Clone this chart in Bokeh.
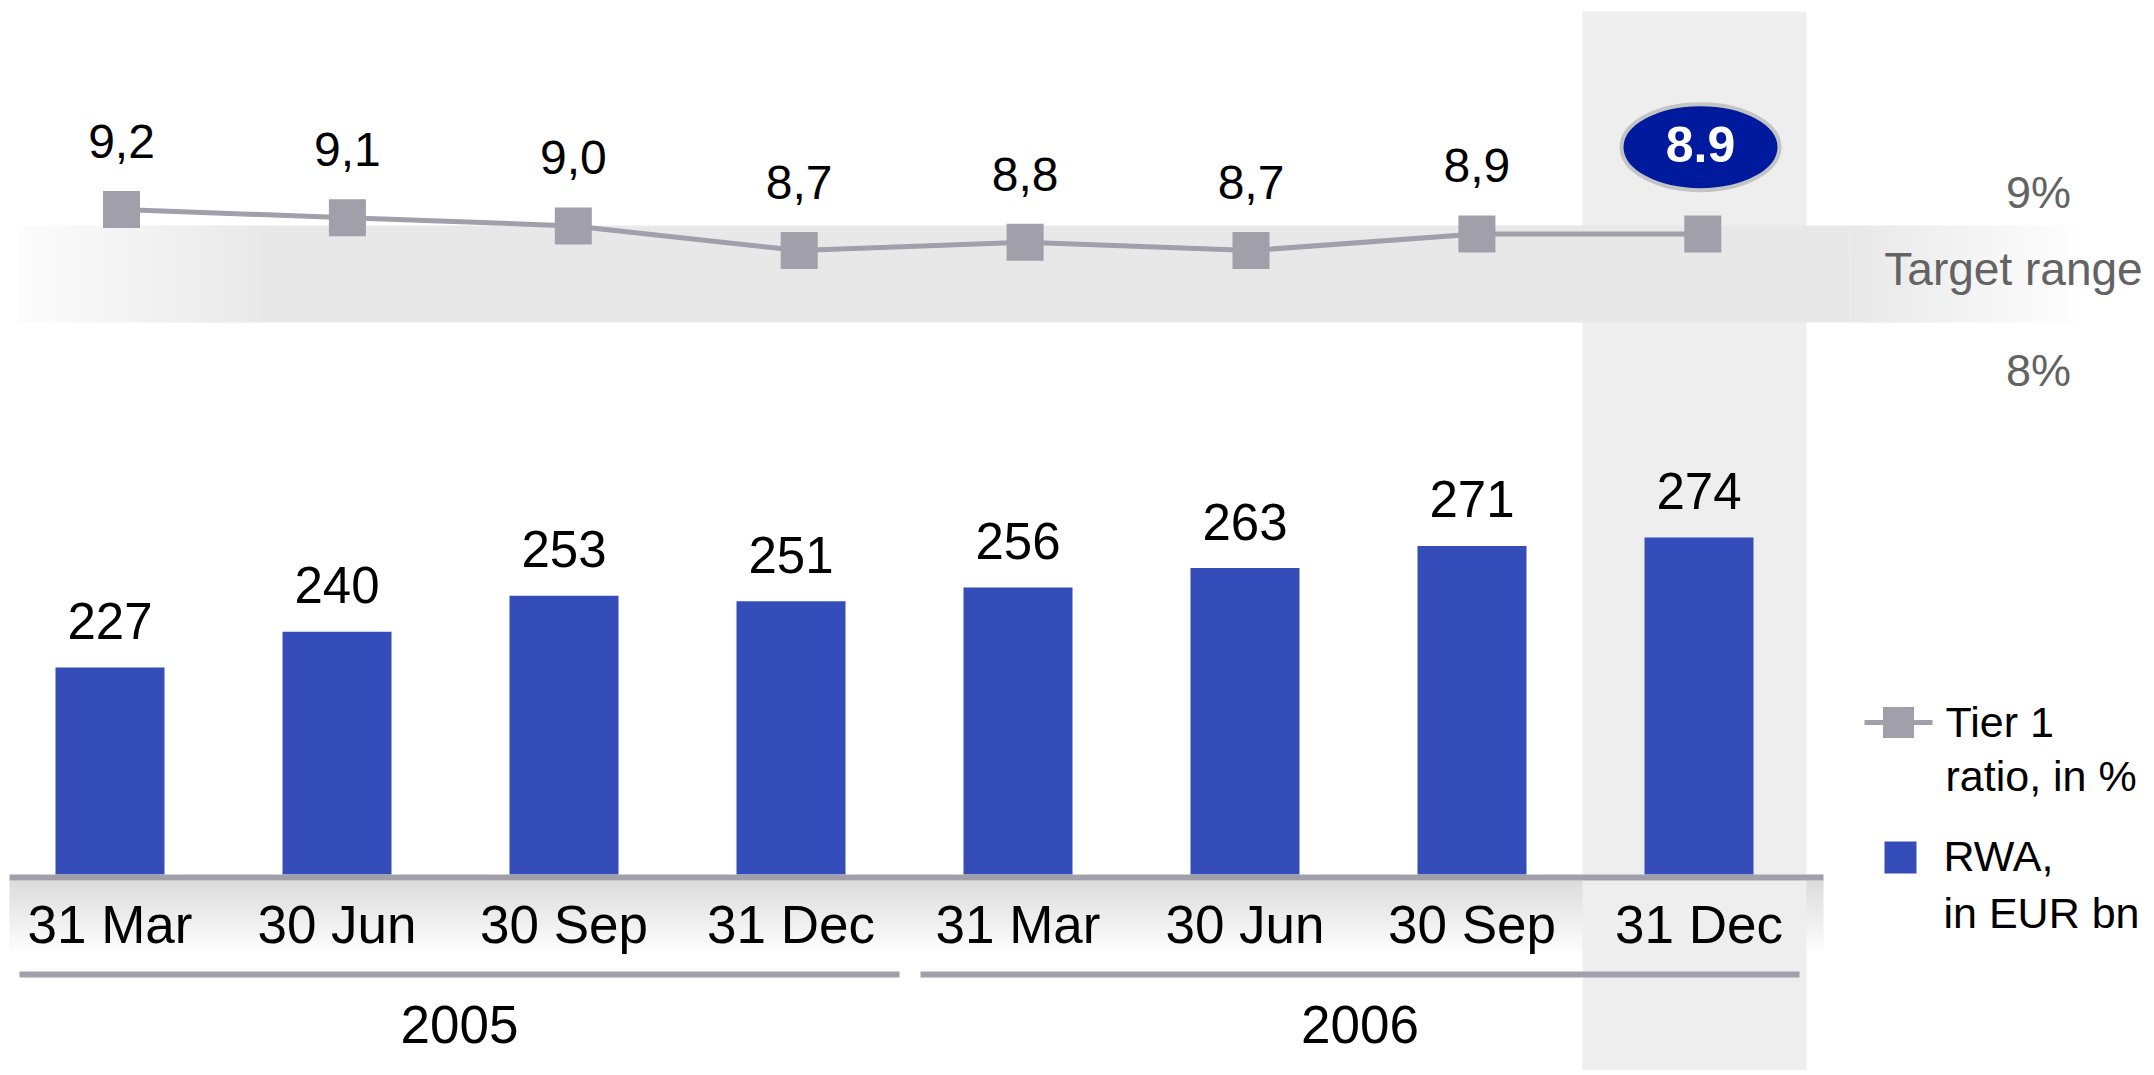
from bokeh.plotting import figure
from bokeh.models import Range1d
from bokeh.embed import file_html
from bokeh.resources import INLINE
from bokeh.core.properties import value

# ---------------- data ----------------
quarters = ["31 Mar", "30 Jun", "30 Sep", "31 Dec", "31 Mar", "30 Jun", "30 Sep", "31 Dec"]
years = ["2005", "2006"]
rwa_bn = [227, 240, 253, 251, 256, 263, 271, 274]
tier1_pct = [9.2, 9.1, 9.0, 8.7, 8.8, 8.7, 8.9, 8.9]
target_labels = ["9%", "8%"]
target_title = "Target range"
legend_tier1 = ["Tier 1", "ratio, in %"]
legend_rwa = ["RWA,", "in EUR bn"]

# ---------------- layout ----------------
W, H = 2150, 1070
M = 0          # observed page offset of the canvas
FONT = value("Liberation Sans")
BLUE = "#344DB8"
GREY = "#A09FAA"
TXT_GREY = "#636363"
BL = 0.4       # baseline correction (fraction of font size)


def cx(x):
    return x - M


def cy(y):
    return y - M


def ty(y, fs):
    """canvas y for a text whose baseline should sit at reference y"""
    return cy(y) - BL * fs


def mix(c1, c2, t):
    a = [int(c1[i:i + 2], 16) for i in (1, 3, 5)]
    b = [int(c2[i:i + 2], 16) for i in (1, 3, 5)]
    return "#%02x%02x%02x" % tuple(round(a[k] + (b[k] - a[k]) * t) for k in range(3))


idx = list(range(len(quarters)))

# bar scale
BAR0, BAR_STEP = 109.5, 227.0
xs0 = -cx(BAR0) / BAR_STEP
RWA_BASE, RWA_PX = 152.2, 2.766
BASE_Y = cy(874)

# tier-1 line scale
LN0, LN_STEP = 121.0, 225.9
xl0 = -cx(LN0) / LN_STEP
R_REF, R_REF_Y, R_PX = 9.2, cy(209), 82.0

p = figure(width=W, height=H,
           x_range=Range1d(xs0, xs0 + W / BAR_STEP),
           y_range=Range1d(RWA_BASE - (H - BASE_Y) / RWA_PX, RWA_BASE + BASE_Y / RWA_PX),
           output_backend="svg", toolbar_location=None,
           x_axis_type=None, y_axis_type=None, min_border=0,
           outline_line_color=None, title=None,
           background_fill_color="white", border_fill_color="white")
p.extra_x_ranges = {"line": Range1d(xl0, xl0 + W / LN_STEP), "px": Range1d(0, W)}
p.extra_y_ranges = {"ratio": Range1d(R_REF - (H - R_REF_Y) / R_PX, R_REF + R_REF_Y / R_PX),
                    "px": Range1d(H, 0)}

PX = dict(x_range_name="px", y_range_name="px")

# gradient below the category axis
N = 30
g_top, g_bot = 880, 956
for k in range(N):
    t0 = g_top + (g_bot - g_top) * k / N
    t1 = g_top + (g_bot - g_top) * (k + 1) / N
    p.quad(left=cx(9), right=cx(1823), top=cy(t0), bottom=cy(t1) + 0.5,
           fill_color=mix("#DCDCDC", "#FFFFFF", k / (N - 1)), line_color=None, **PX)

# highlight column
p.quad(left=cx(1582), right=cx(1806), top=cy(11), bottom=H + 5,
       fill_color="#EEEEEE", line_color=None, **PX)

# target range band
BAND_T, BAND_B = 225, 322
p.quad(left=cx(268), right=cx(1850), top=cy(BAND_T), bottom=cy(BAND_B),
       fill_color="#E8E8E8", line_color=None, **PX)
NF = 40
for k in range(NF):
    l0 = 18 + (268 - 18) * k / NF
    l1 = 18 + (268 - 18) * (k + 1) / NF
    p.quad(left=cx(l0), right=cx(l1) + 0.6, top=cy(BAND_T), bottom=cy(BAND_B),
           fill_color=mix("#FCFCFC", "#E8E8E8", (k + 0.5) / NF), line_color=None, **PX)
    r0 = 1850 + (2082 - 1850) * k / NF
    r1 = 1850 + (2082 - 1850) * (k + 1) / NF
    p.quad(left=cx(r0), right=cx(r1) + 0.6, top=cy(BAND_T), bottom=cy(BAND_B),
           fill_color=mix("#E8E8E8", "#FEFEFE", (k + 0.5) / NF), line_color=None, **PX)

# bars
p.vbar(x=idx, top=rwa_bn, bottom=RWA_BASE, width=109 / BAR_STEP,
       fill_color=BLUE, line_color=None)

# axis line and group lines
p.quad(left=cx(9), right=cx(1823), top=cy(874), bottom=cy(880),
       fill_color=GREY, line_color=None, **PX)
group_spans = [(19, 899), (920, 1799)]
for (gl, gr) in group_spans:
    p.quad(left=cx(gl), right=cx(gr), top=cy(971), bottom=cy(977),
           fill_color=GREY, line_color=None, **PX)

# tier 1 line
p.line(x=idx, y=tier1_pct, line_color=GREY, line_width=5,
       x_range_name="line", y_range_name="ratio")
p.scatter(x=idx, y=tier1_pct, marker="square", size=37, fill_color=GREY,
          line_color=None, x_range_name="line", y_range_name="ratio")

# tier labels (all but the highlighted last one)
FS_T = 48
p.text(x=idx[:-1], y=tier1_pct[:-1],
       text=[f"{v:.1f}".replace(".", ",") for v in tier1_pct[:-1]],
       text_font=FONT, text_font_size=f"{FS_T}px", text_color="black",
       text_align="center", text_baseline="alphabetic", y_offset=-49 - BL * FS_T,
       x_range_name="line", y_range_name="ratio")

# highlighted last value
FS_E = 50
p.ellipse(x=[cx(1700)], y=[cy(146.7)], width=158, height=86,
          fill_color="#001A9E", line_color="#C4C4C4", line_width=4, **PX)
p.text(x=[cx(1700)], y=[ty(164, FS_E)], text=[f"{tier1_pct[-1]:.1f}"],
       text_font=FONT, text_font_size=f"{FS_E}px", text_font_style="bold",
       text_color="white", text_align="center", text_baseline="alphabetic", **PX)

# bar value labels
FS_V = 51
p.text(x=idx, y=rwa_bn, text=[str(v) for v in rwa_bn],
       text_font=FONT, text_font_size=f"{FS_V}px", text_color="black",
       text_align="center", text_baseline="alphabetic", y_offset=-26 - BL * FS_V)

# category labels
FS_C = 53
p.text(x=idx, y=[ty(945, FS_C)] * len(idx), text=quarters,
       text_font=FONT, text_font_size=f"{FS_C}px", text_color="black",
       text_align="center", text_baseline="alphabetic", y_range_name="px")

# year labels
p.text(x=[cx((a + b) / 2) for a, b in group_spans], y=[ty(1045, FS_C)] * 2, text=years,
       text_font=FONT, text_font_size=f"{FS_C}px", text_color="black",
       text_align="center", text_baseline="alphabetic", **PX)

# target range texts
FS_P = 45
p.text(x=[cx(2038), cx(2038)], y=[ty(210, FS_P), ty(388, FS_P)], text=target_labels,
       text_font=FONT, text_font_size=f"{FS_P}px", text_color=TXT_GREY,
       text_align="center", text_baseline="alphabetic", **PX)
FS_R = 46
p.text(x=[cx(2013)], y=[ty(287, FS_R)], text=[target_title],
       text_font=FONT, text_font_size=f"{FS_R}px", text_color=TXT_GREY,
       text_align="center", text_baseline="alphabetic", **PX)

# legend
FS_L = 43
p.line(x=[cx(1864), cx(1932)], y=[cy(722), cy(722)], line_color=GREY, line_width=5, **PX)
p.scatter(x=[cx(1898)], y=[cy(722)], marker="square", size=31, fill_color=GREY,
          line_color=None, **PX)
p.scatter(x=[cx(1900)], y=[cy(857)], marker="square", size=32, fill_color=BLUE,
          line_color=None, **PX)
p.text(x=[cx(1945), cx(1945)], y=[ty(739, FS_L), ty(793, FS_L)], text=legend_tier1,
       text_font=FONT, text_font_size=f"{FS_L}px", text_color="black",
       text_align="left", text_baseline="alphabetic", **PX)
p.text(x=[cx(1943), cx(1943)], y=[ty(873, FS_L), ty(930, FS_L)], text=legend_rwa,
       text_font=FONT, text_font_size=f"{FS_L}px", text_color="black",
       text_align="left", text_baseline="alphabetic", **PX)

open("out.html", "w").write(file_html(p, INLINE))
